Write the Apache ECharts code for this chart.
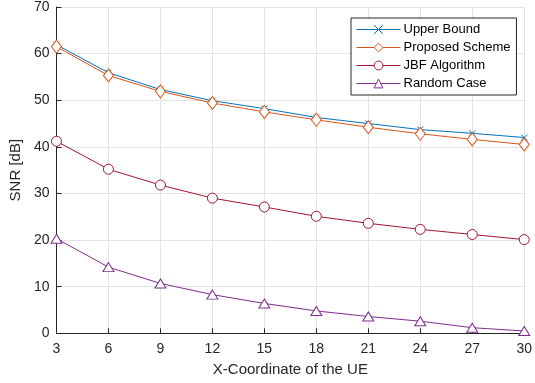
<!DOCTYPE html>
<html>
<head>
<meta charset="utf-8">
<script src="https://cdn.jsdelivr.net/npm/echarts@6/dist/echarts.min.js"></script>
<style>
  html, body { margin: 0; padding: 0; background: #fff; }
  #chart { width: 535px; height: 383px; }
</style>
</head>
<body>
<div id="chart"></div>
<script>
var xCoords = [3, 6, 9, 12, 15, 18, 21, 24, 27, 30];
var upperBound = [61.9, 55.9, 52.3, 49.9, 48.2, 46.3, 45.0, 43.7, 42.9, 42.0];
var proposed = [61.5, 55.3, 51.9, 49.4, 47.5, 45.8, 44.2, 42.8, 41.6, 40.5];
var jbf = [41.2, 35.2, 31.8, 29.0, 27.1, 25.1, 23.6, 22.3, 21.2, 20.1];
var randomCase = [20.3, 14.2, 10.7, 8.3, 6.4, 4.8, 3.6, 2.6, 1.2, 0.5];
var seriesNames = ['Upper Bound', 'Proposed Scheme', 'JBF Algorithm', 'Random Case'];

var chart = echarts.init(document.getElementById('chart'));
var font = 'Liberation Sans, Arial, Helvetica, sans-serif';
var axisColor = '#262626';

function pairs(ys) {
  return xCoords.map(function (x, i) { return [x, ys[i]]; });
}

function makeSeries(name, ys, color, symbol, size) {
  return {
    name: name,
    type: 'line',
    data: pairs(ys),
    symbol: symbol,
    symbolSize: size,
    showAllSymbol: true,
    lineStyle: { color: color, width: 1 },
    itemStyle: { color: '#fff', borderColor: color, borderWidth: 1 },
    emphasis: { disabled: true },
    animation: false
  };
}

var option = {
  animation: false,
  grid: { left: 52, right: 7, top: 6.7, bottom: 49.7 },
  legend: {
    orient: 'vertical',
    left: 351,
    top: 18,
    padding: [5, 6, 5, 5],
    itemGap: 5,
    itemWidth: 44,
    itemHeight: 11,
    backgroundColor: '#fff',
    borderColor: axisColor,
    borderWidth: 1,
    lineStyle: { width: 1 },
    itemStyle: { borderWidth: 1 },
    textStyle: { fontFamily: font, fontSize: 13, color: '#000', padding: [0, 0, 0, -2] },
    data: seriesNames
  },
  xAxis: {
    type: 'value',
    min: 3,
    max: 30,
    interval: 3,
    name: 'X-Coordinate of the UE',
    nameLocation: 'middle',
    nameGap: 29,
    nameTextStyle: { fontFamily: font, fontSize: 15, color: axisColor },
    axisLine: { lineStyle: { color: axisColor, width: 1 } },
    axisTick: { inside: true, length: 5, lineStyle: { color: axisColor } },
    axisLabel: { fontFamily: font, fontSize: 14, color: axisColor, margin: 9 },
    splitLine: { show: true, lineStyle: { color: '#e3e3e3', width: 1 } }
  },
  yAxis: {
    type: 'value',
    min: 0,
    max: 70,
    interval: 10,
    name: 'SNR [dB]',
    nameLocation: 'middle',
    nameGap: 25,
    nameTextStyle: { fontFamily: font, fontSize: 15, color: axisColor },
    axisLine: { show: true, lineStyle: { color: axisColor, width: 1 } },
    axisTick: { show: true, inside: true, length: 5, lineStyle: { color: axisColor } },
    axisLabel: { fontFamily: font, fontSize: 14, color: axisColor, margin: 7 },
    splitLine: { show: true, lineStyle: { color: '#e3e3e3', width: 1 } }
  },
  series: [
    makeSeries(seriesNames[0], upperBound, '#0072BD', 'path://M0,0L10,10M10,0L0,10', 6),
    makeSeries(seriesNames[1], proposed, '#D95319', 'diamond', [10, 13]),
    makeSeries(seriesNames[2], jbf, '#A2142F', 'circle', 10),
    makeSeries(seriesNames[3], randomCase, '#7E2F8E', 'triangle', [11, 9])
  ]
};

chart.setOption(option);
</script>
</body>
</html>
